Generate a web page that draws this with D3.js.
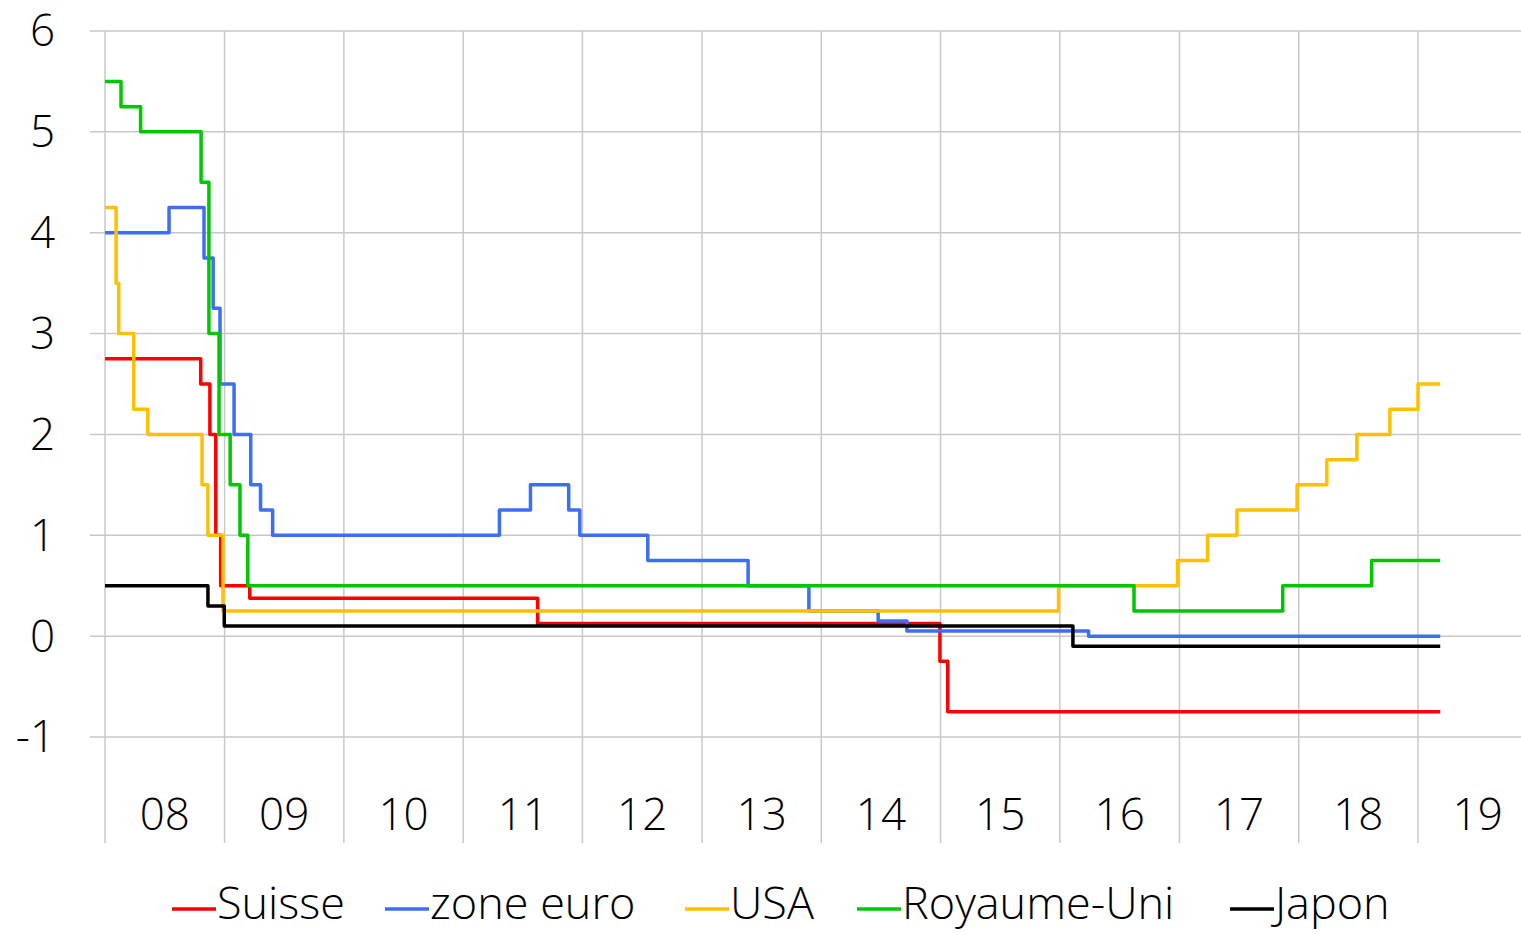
<!DOCTYPE html>
<html>
<head>
<meta charset="utf-8">
<script src="https://cdn.jsdelivr.net/npm/d3@7"></script>
<style>
  html, body { margin: 0; padding: 0; background: #fff; }
  svg { display: block; }
  text { font-family: "Open Sans", Lato, sans-serif; font-weight: 300; fill: #000; }
</style>
</head>
<body>
<svg id="chart" width="1521" height="934"></svg>
<script>
// ---- data (change points: date of new value, value) ----
const seriesNames = ["Suisse", "zone euro", "USA", "Royaume-Uni", "Japon"];
const seriesColors = ["#ff0000", "#3d6ff5", "#ffc000", "#00c800", "#000000"];
const endDate = "2019-03-10";

const suisseDates  = ["2008-01-01","2008-10-20","2008-11-17","2008-12-05","2008-12-20","2009-03-19","2011-08-17","2014-12-30","2015-01-23"];
const suisseValues = [2.75, 2.5, 2.0, 1.0, 0.5, 0.375, 0.125, -0.25, -0.75];

const euroDates  = ["2008-01-01","2008-07-15","2008-10-30","2008-11-27","2008-12-18","2009-01-30","2009-03-22","2009-04-21","2009-05-28","2011-04-22","2011-07-26","2011-11-20","2011-12-24","2012-07-19","2013-05-22","2013-11-24","2014-06-24","2014-09-20","2016-03-29"];
const euroValues = [4.0, 4.25, 3.75, 3.25, 2.5, 2.0, 1.5, 1.25, 1.0, 1.25, 1.5, 1.25, 1.0, 0.75, 0.5, 0.25, 0.15, 0.05, 0.0];

const usaDates  = ["2008-01-01","2008-02-04","2008-02-12","2008-03-29","2008-05-11","2008-10-24","2008-11-11","2008-12-27","2015-12-28","2016-12-26","2017-03-28","2017-06-26","2017-12-27","2018-03-28","2018-06-28","2018-10-07","2019-01-01"];
const usaValues = [4.25, 3.5, 3.0, 2.25, 2.0, 1.5, 1.0, 0.25, 0.5, 0.75, 1.0, 1.25, 1.5, 1.75, 2.0, 2.25, 2.5];

const ukDates  = ["2008-01-01","2008-02-19","2008-04-19","2008-10-21","2008-11-14","2008-12-15","2009-01-18","2009-02-17","2009-03-13","2016-08-15","2017-11-13","2018-08-12"];
const ukValues = [5.5, 5.25, 5.0, 4.5, 3.0, 2.0, 1.5, 1.0, 0.5, 0.25, 0.5, 0.75];

const japonDates  = ["2008-01-01","2008-11-11","2008-12-31","2016-02-10"];
const japonValues = [0.5, 0.3, 0.1, -0.1];

const yTicks = [-1, 0, 1, 2, 3, 4, 5, 6];
const yearLabels = ["08","09","10","11","12","13","14","15","16","17","18","19"];
const yearStarts = [2008,2009,2010,2011,2012,2013,2014,2015,2016,2017,2018,2019];

// ---- build ----
const parse = d3.timeParse("%Y-%m-%d");
const allDates = [suisseDates, euroDates, usaDates, ukDates, japonDates];
const allValues = [suisseValues, euroValues, usaValues, ukValues, japonValues];
const series = seriesNames.map((name, i) => {
  const pts = allDates[i].map((d, j) => ({ date: parse(d), value: allValues[i][j] }));
  pts.push({ date: parse(endDate), value: allValues[i][allValues[i].length - 1] });
  return { name, color: seriesColors[i], pts };
});

const svg = d3.select("#chart");
svg.append("rect").attr("width", 1521).attr("height", 934).attr("fill", "#fff");

const x = d3.scaleTime()
  .domain([new Date(2008, 0, 1), new Date(2019, 0, 1)])
  .range([105, 1418]);
const y = d3.scaleLinear().domain([-1, 6]).range([737, 31]);

const gridColor = "#c8c8c8";

// horizontal gridlines
svg.append("g").selectAll("line").data(yTicks).join("line")
  .attr("x1", 90).attr("x2", 1521)
  .attr("y1", d => y(d)).attr("y2", d => y(d))
  .attr("stroke", gridColor).attr("stroke-width", 1.5);

// vertical year lines
svg.append("g").selectAll("line").data(yearStarts).join("line")
  .attr("x1", d => x(new Date(d, 0, 1))).attr("x2", d => x(new Date(d, 0, 1)))
  .attr("y1", y(6)).attr("y2", 843)
  .attr("stroke", gridColor).attr("stroke-width", 1.5);

// y labels
svg.append("g").selectAll("text").data(yTicks).join("text")
  .attr("x", 55).attr("y", d => y(d))
  .attr("text-anchor", "end").attr("dy", "0.35em")
  .attr("font-size", 44)
  .text(d => d);

// year labels
svg.append("g").selectAll("text").data(yearStarts).join("text")
  .attr("x", (d, i) => (x(new Date(d, 0, 1)) + x(new Date(d + 1, 0, 1))) / 2)
  .attr("y", 815).attr("dy", "0.35em")
  .attr("text-anchor", "middle")
  .attr("font-size", 44)
  .text((d, i) => yearLabels[i]);

// lines
const line = d3.line().x(d => x(d.date)).y(d => y(d.value)).curve(d3.curveStepAfter);
svg.append("g").selectAll("path").data(series).join("path")
  .attr("d", d => line(d.pts))
  .attr("fill", "none")
  .attr("stroke", d => d.color)
  .attr("stroke-width", 3.5)
  .attr("stroke-linejoin", "round");

// legend
const legendX = [172, 385, 685, 857, 1230];
const lg = svg.append("g").selectAll("g").data(series).join("g")
  .attr("transform", (d, i) => `translate(${legendX[i]},903)`);
lg.append("line").attr("x1", 0).attr("x2", 44).attr("y1", 6).attr("y2", 6)
  .attr("stroke", d => d.color).attr("stroke-width", 3.5);
lg.append("text").attr("x", 45).attr("y", 0).attr("dy", "0.35em")
  .attr("font-size", 45).text(d => d.name);
</script>
</body>
</html>
